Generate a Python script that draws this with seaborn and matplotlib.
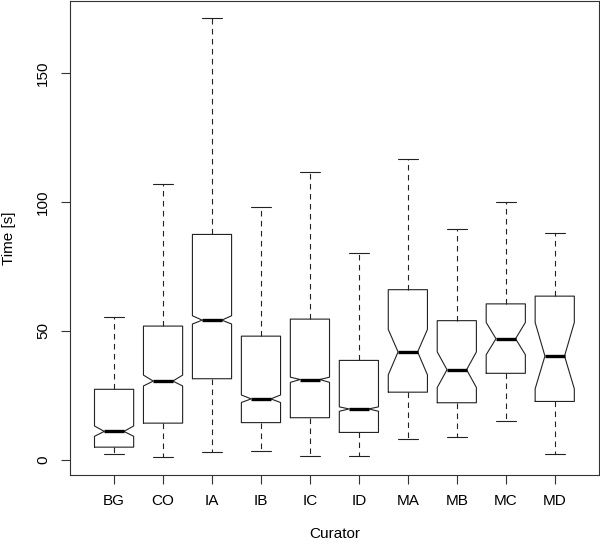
import matplotlib
matplotlib.use("Agg")
import matplotlib.pyplot as plt
import seaborn as sns

# summary stats (seconds)
curators = ["BG", "CO", "IA", "IB", "IC", "ID", "MA", "MB", "MC", "MD"]
whisker_low = [2.4, 1.2, 3.1, 3.5, 1.7, 1.7, 8.3, 9.0, 15.0, 2.4]
q1 = [5.0, 14.3, 31.5, 14.5, 16.4, 10.7, 26.3, 22.2, 33.6, 22.7]
median = [11.1, 30.6, 54.2, 23.7, 31.2, 19.8, 41.9, 35.0, 47.0, 40.3]
q3 = [27.4, 51.9, 87.4, 48.0, 54.6, 38.6, 66.0, 54.0, 60.5, 63.5]
whisker_high = [55.3, 107.0, 171.2, 97.9, 111.5, 80.2, 116.6, 89.6, 100.0, 87.8]
notch_low = [9.2, 28.7, 52.7, 22.3, 30.1, 18.9, 33.0, 28.1, 40.8, 27.6]
notch_high = [13.2, 32.9, 55.9, 25.2, 32.1, 20.6, 50.6, 41.9, 53.3, 53.3]

sns.set_theme(style="ticks")
plt.rcParams["font.family"] = ["Liberation Sans", "DejaVu Sans"]

stats = []
for i, name in enumerate(curators):
    stats.append(dict(label=name, whislo=whisker_low[i], q1=q1[i], med=median[i],
                      q3=q3[i], whishi=whisker_high[i], cilo=notch_low[i],
                      cihi=notch_high[i], fliers=[]))

fig, ax = plt.subplots(figsize=(6, 5.45), dpi=100)
fig.subplots_adjust(left=0.1167, right=0.998, bottom=0.1284, top=0.998)

line_kw = dict(color="#222222", linewidth=0.8)
ax.bxp(stats, positions=range(1, len(curators) + 1), widths=0.8,
       shownotches=True, showfliers=False,
       boxprops=line_kw,
       medianprops=dict(color="black", linewidth=2.4, solid_capstyle="butt"),
       whiskerprops=dict(color="#222222", linewidth=0.8, linestyle=(0, (5, 4))),
       capprops=line_kw)

ax.set_xlim(0.1, 10.9)
ax.set_ylim(-5.8, 177.8)
ax.set_yticks([0, 50, 100, 150])
ax.set_xticks(range(1, len(curators) + 1))
ax.set_xticklabels(curators)
plt.setp(ax.get_yticklabels(), rotation=90, va="center")

ax.tick_params(axis="both", direction="out", length=6.5, width=0.8,
               color="#333333", labelsize=11, labelcolor="black")
ax.tick_params(axis="y", pad=8)
ax.tick_params(axis="x", pad=7)

for sp in ax.spines.values():
    sp.set_color("#333333")
    sp.set_linewidth(0.8)

ax.set_xlabel("Curator", fontsize=11, color="black", labelpad=14)
ax.set_ylabel("Time [s]", fontsize=11, color="black", labelpad=14)

fig.savefig("out.png", dpi=100)
